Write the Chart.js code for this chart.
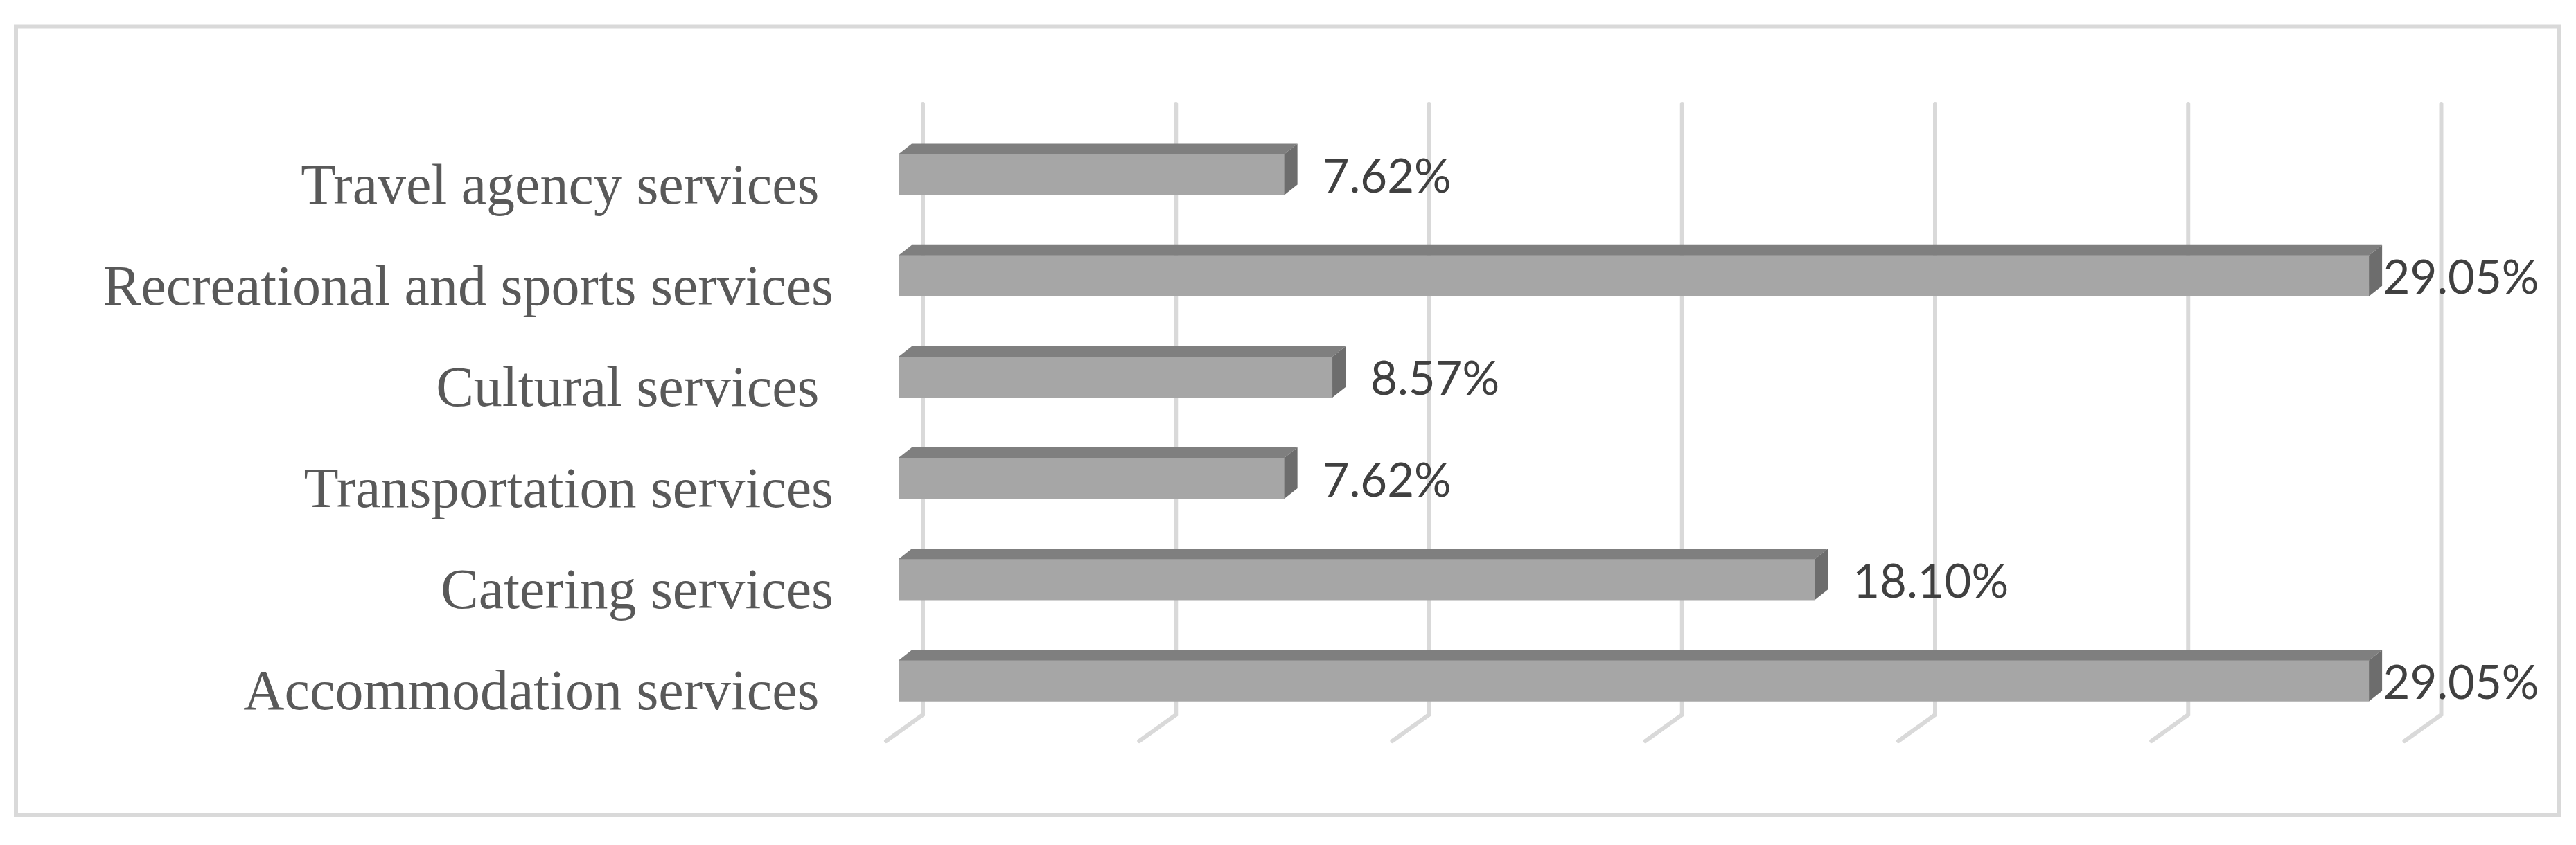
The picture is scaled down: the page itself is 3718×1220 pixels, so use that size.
<!DOCTYPE html>
<html><head><meta charset="utf-8">
<script src="https://cdn.jsdelivr.net/npm/chart.js@4.4.1/dist/chart.umd.min.js"></script>
<style>html,body{margin:0;padding:0;background:#fff;overflow:hidden}canvas{display:block}</style>
</head><body>
<canvas id="c" width="3718" height="1220"></canvas>
<script>
// ---- data ----
const categories = ['Travel agency services ', 'Recreational and sports services', 'Cultural services ', 'Transportation services', 'Catering services', 'Accommodation services '];
const values = [7.62, 29.05, 8.57, 7.62, 18.10, 29.05];
const gridValues = [0, 5, 10, 15, 20, 25, 30];
const axisMin = 0;
const axisMax = 30;

// ---- styling / geometry ----
const FRAME = {left: 23, top: 38.5, right: 3693.5, bottom: 1177, width: 6, color: '#d9d9d9'};
const BACK = {dx: 35, topOff: -29, bottomOff: -24};       // back wall relative to bar front plane
const FLOOR = {dx: -53, dy: 38};                           // floor front edge relative to back wall
const BAR3D = {dx: 19, dy: -15, top: '#7f7f7f', side: '#6d6d6d'};

const framePlugin = {
  id: 'frame',
  beforeDraw(chart) {
    const ctx = chart.ctx;
    ctx.save();
    ctx.fillStyle = '#ffffff';
    ctx.fillRect(0, 0, chart.width, chart.height);
    ctx.strokeStyle = FRAME.color;
    ctx.lineWidth = FRAME.width;
    ctx.strokeRect(FRAME.left, FRAME.top, FRAME.right - FRAME.left, FRAME.bottom - FRAME.top);
    ctx.restore();
  }
};

const grid3dPlugin = {
  id: 'grid3d',
  beforeDatasetsDraw(chart) {
    const ctx = chart.ctx, xs = chart.scales.x, area = chart.chartArea;
    ctx.save();
    ctx.strokeStyle = '#d9d9d9';
    ctx.lineWidth = 6;
    ctx.lineCap = 'round';
    ctx.lineJoin = 'miter';
    const yTop = area.top + BACK.topOff, yBot = area.bottom + BACK.bottomOff;
    gridValues.forEach(v => {
      const x = xs.getPixelForValue(v) + BACK.dx;
      ctx.beginPath();
      ctx.moveTo(x, yTop);
      ctx.lineTo(x, yBot);
      ctx.lineTo(x + FLOOR.dx, yBot + FLOOR.dy);
      ctx.stroke();
    });
    ctx.restore();
  }
};

const bar3dPlugin = {
  id: 'bar3d',
  afterDatasetsDraw(chart) {
    const ctx = chart.ctx;
    const meta = chart.getDatasetMeta(0);
    ctx.save();
    meta.data.forEach((bar, i) => {
      const p = bar.getProps(['x', 'y', 'base', 'height'], true);
      const x0 = Math.min(p.base, p.x), x1 = Math.max(p.base, p.x);
      const yT = p.y - p.height / 2, yB = p.y + p.height / 2;
      // top face
      ctx.fillStyle = BAR3D.top;
      ctx.beginPath();
      ctx.moveTo(x0, yT);
      ctx.lineTo(x0 + BAR3D.dx, yT + BAR3D.dy);
      ctx.lineTo(x1 + BAR3D.dx, yT + BAR3D.dy);
      ctx.lineTo(x1, yT);
      ctx.closePath();
      ctx.fill();
      // side face
      ctx.fillStyle = BAR3D.side;
      ctx.beginPath();
      ctx.moveTo(x1, yT);
      ctx.lineTo(x1 + BAR3D.dx, yT + BAR3D.dy);
      ctx.lineTo(x1 + BAR3D.dx, yB + BAR3D.dy);
      ctx.lineTo(x1, yB);
      ctx.closePath();
      ctx.fill();
      // value label
      const txt = values[i].toFixed(2) + '%';
      ctx.font = '67px Lato';
      ctx.fillStyle = '#404040';
      ctx.textAlign = 'left';
      ctx.textBaseline = 'alphabetic';
      const w = ctx.measureText(txt).width;
      const tx = Math.min(x1 + 55, FRAME.right - 29 - w);
      ctx.fillText(txt, tx, p.y + 26);
    });
    ctx.restore();
  }
};

function build() {
  new Chart(document.getElementById('c'), {
    type: 'bar',
    data: {
      labels: categories,
      datasets: [{
        data: values,
        backgroundColor: '#a6a6a6',
        borderWidth: 0,
        barThickness: 59
      }]
    },
    options: {
      indexAxis: 'y',
      responsive: false,
      animation: false,
      events: [],
      layout: {padding: {left: 0, right: 229.5, top: 179, bottom: 164}},
      plugins: {legend: {display: false}, tooltip: {enabled: false}},
      scales: {
        x: {type: 'linear', min: axisMin, max: axisMax, display: false},
        y: {
          type: 'category',
          grid: {display: false, drawTicks: false},
          border: {display: false},
          ticks: {
            autoSkip: false,
            color: '#595959',
            font: {family: "'Liberation Serif'", size: 82},
            padding: 94,
            labelOffset: 20
          },
          afterFit(s) { s.width = 1297; }
        }
      }
    },
    plugins: [framePlugin, grid3dPlugin, bar3dPlugin]
  });
}
Promise.all([
  document.fonts.load("82px 'Liberation Serif'"),
  document.fonts.load('67px Lato')
]).then(build, build);
</script>
</body></html>
